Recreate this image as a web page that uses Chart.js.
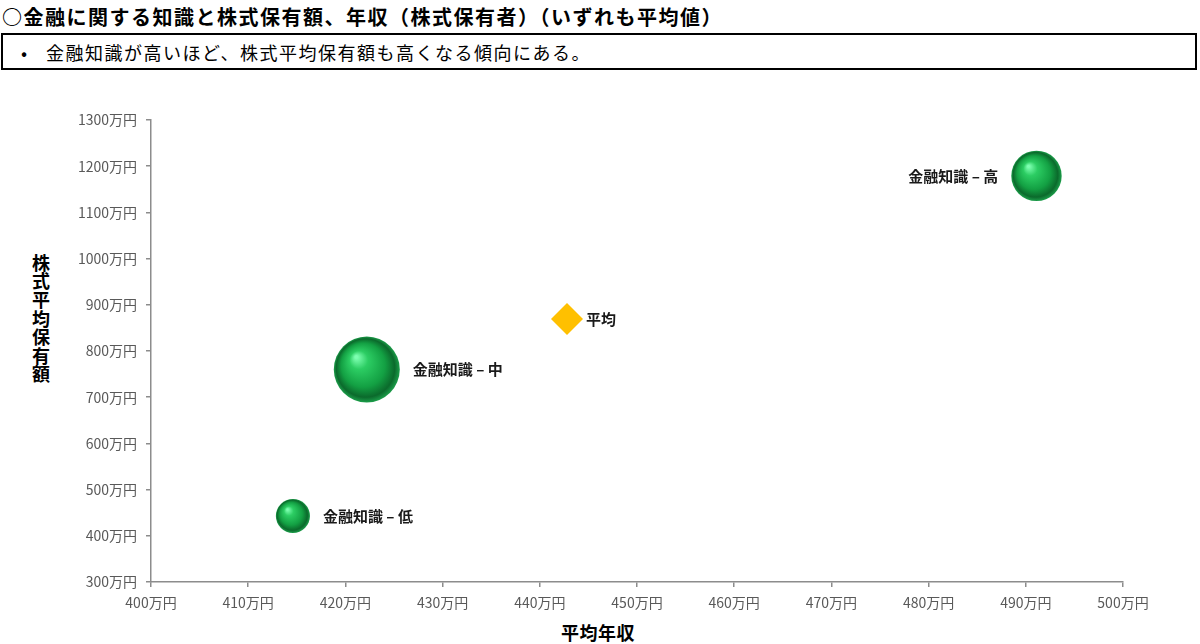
<!DOCTYPE html>
<html lang="ja">
<head>
<meta charset="utf-8">
<script src="https://cdn.jsdelivr.net/npm/chart.js@4"></script>
<style>
  body { margin: 0; background: #fff; font-family: "Noto Sans CJK JP", sans-serif; }
  #page { position: relative; width: 1200px; height: 644px; overflow: hidden; }
  #title { position: absolute; left: 2px; top: 2px; font-size: 20px; font-weight: bold; color: #000; white-space: nowrap; letter-spacing: 1.5px; }
  #note { position: absolute; left: 1px; top: 33px; width: 1192px; height: 33px; border: 2px solid #000; box-sizing: content-box; }
  #note b { position: absolute; left: 18px; top: 4px; font-size: 18px; font-weight: normal; }
  #note span { position: absolute; left: 43px; top: 4px; font-size: 18px; color: #000; white-space: nowrap; letter-spacing: 1.5px; }
  #ytitle { position: absolute; left: 28px; top: 254px; writing-mode: vertical-rl; font-size: 18px; font-weight: bold; letter-spacing: 0.6px; color: #000; }
  #xtitle { position: absolute; left: 561px; top: 619px; font-size: 18px; font-weight: bold; color: #000; letter-spacing: 0.5px; }
  #wrap { position: absolute; left: 0; top: 80px; width: 1200px; height: 564px; }
</style>
</head>
<body>
<div id="page">
  <div id="title">○金融に関する知識と株式保有額、年収（株式保有者）（いずれも平均値）</div>
  <div id="note"><b>•</b><span>金融知識が高いほど、株式平均保有額も高くなる傾向にある。</span></div>
  <div id="ytitle">株式平均保有額</div>
  <div id="xtitle">平均年収</div>
  <div id="wrap"><canvas id="bubbleChart"></canvas></div>
</div>
<script>
// 金融知識別（株式保有者）
const groups = ['金融知識 – 低', '金融知識 – 中', '金融知識 – 高'];
const incomes = [414.6, 422.2, 491.1];   // 平均年収（万円）
const holdings = [443, 760, 1179];       // 株式平均保有額（万円）
const shares = [16, 60, 35];             // バブルの大きさ（相対値）

// 全体平均
const avgName = '平均';
const avgIncome = 442.8;
const avgHolding = 869;

const xRange = [400, 500];
const yRange = [300, 1300];
const unit = '万円';

// green sphere look
function sphereFill(c) {
  const chart = c.chart;
  const raw = c.raw;
  if (!chart.chartArea || !raw) return '#1aa64a';
  const x = chart.scales.x.getPixelForValue(raw.x);
  const y = chart.scales.y.getPixelForValue(raw.y);
  const r = raw.r;
  const g = chart.ctx.createRadialGradient(x - r * 0.32, y - r * 0.38, r * 0.04, x, y, r);
  g.addColorStop(0, '#7dffb0');
  g.addColorStop(0.25, '#2ccd63');
  g.addColorStop(0.65, '#13a043');
  g.addColorStop(0.88, '#0b6a2c');
  g.addColorStop(1, '#1c9e4a');
  return g;
}

const pointLabels = {
  id: 'pointLabels',
  afterDatasetsDraw(chart) {
    const ctx = chart.ctx;
    ctx.save();
    ctx.font = 'bold 15px "Noto Sans CJK JP"';
    ctx.fillStyle = '#1a1a1a';
    ctx.textBaseline = 'middle';
    chart.data.datasets.forEach((ds, di) => {
      chart.getDatasetMeta(di).data.forEach((el, i) => {
        const name = ds.names[i];
        const r = el.options.radius;
        const gap = di === 0 ? 13 : 3;
        // the high group is labelled on its left
        if (di === 0 && i === 2) {
          ctx.textAlign = 'right';
          ctx.fillText(name, el.x - r - gap, el.y);
        } else {
          ctx.textAlign = 'left';
          ctx.fillText(name, el.x + r + gap, el.y);
        }
      });
    });
    ctx.restore();
  }
};

const tickFont = { family: '"Noto Sans CJK JP"', size: 14 };

new Chart(document.getElementById('bubbleChart'), {
  type: 'bubble',
  data: {
    datasets: [
      {
        names: groups,
        data: groups.map((g, i) => ({ x: incomes[i], y: holdings[i], r: 4.26 * Math.sqrt(shares[i]) })),
        backgroundColor: sphereFill,
        borderWidth: 0
      },
      {
        names: [avgName],
        data: [{ x: avgIncome, y: avgHolding, r: 16 }],
        pointStyle: 'rectRot',
        backgroundColor: '#FFC000',
        borderWidth: 0
      }
    ]
  },
  options: {
    responsive: true,
    maintainAspectRatio: false,
    animation: false,
    layout: { padding: { left: 0, right: 77, top: 40, bottom: 0 } },
    plugins: { legend: { display: false }, tooltip: { enabled: false } },
    scales: {
      x: {
        min: xRange[0], max: xRange[1],
        afterFit(s) { s.height = 62; },
        border: { color: '#8c8c8c', width: 1.5 },
        grid: { display: true, drawOnChartArea: false, drawTicks: true, tickLength: 5, color: '#8c8c8c', lineWidth: 1.5 },
        ticks: { stepSize: 10, padding: 7, color: '#595959', font: tickFont, maxRotation: 0, callback: v => v + unit }
      },
      y: {
        min: yRange[0], max: yRange[1],
        afterFit(s) { s.width = 151; },
        border: { color: '#8c8c8c', width: 1.5 },
        grid: { display: true, drawOnChartArea: false, drawTicks: true, tickLength: 5, color: '#8c8c8c', lineWidth: 1.5 },
        ticks: { stepSize: 100, padding: 9, color: '#595959', font: tickFont, callback: v => v + unit }
      }
    }
  },
  plugins: [pointLabels]
});
</script>
</body>
</html>
